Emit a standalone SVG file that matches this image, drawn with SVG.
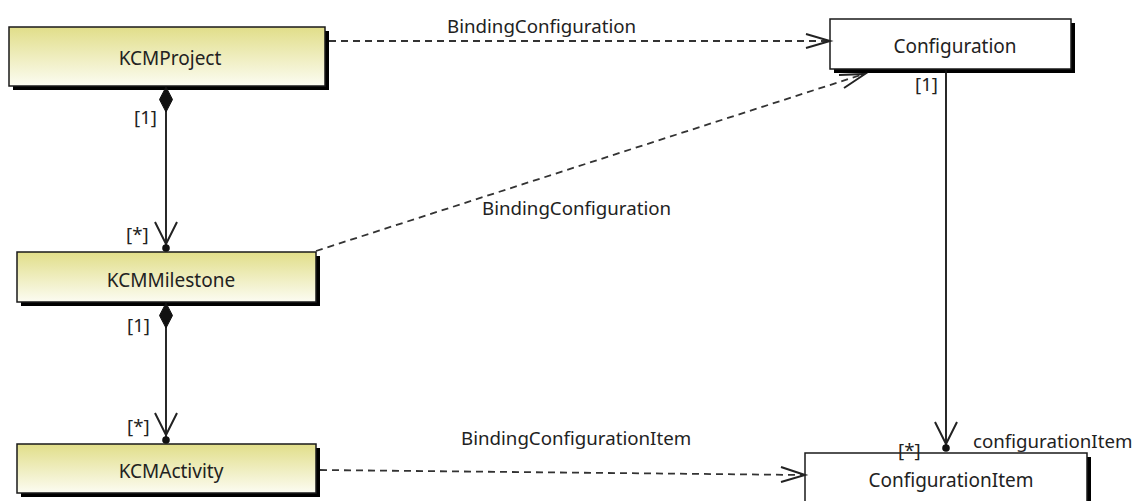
<svg xmlns="http://www.w3.org/2000/svg" width="1136" height="501" viewBox="0 0 1136 501">
<style>
.shadow{fill:#000}
.cls{stroke:#1a1a1a;stroke-width:1.5}
.yel{fill:url(#yg)}
.wht{fill:#fff}
.name{font-family:"Noto Sans","Open Sans",sans-serif;font-size:19px;fill:#222;text-anchor:middle}
.lbl{font-family:"Noto Sans","Open Sans",sans-serif;font-size:18.7px;fill:#222}
.solid{stroke:#111;stroke-width:1.8;fill:none}
.dash{stroke:#333;stroke-width:1.8;fill:none;stroke-dasharray:7 5}
.arm{stroke:#222;stroke-width:2;fill:none}
.dia{fill:#111;stroke:#111;stroke-width:1}
.dot{fill:#111}
</style>
<defs>
<linearGradient id="yg" x1="0" y1="0" x2="0" y2="1">
<stop offset="0" stop-color="#e1de89"/>
<stop offset="1" stop-color="#fcfcf2"/>
</linearGradient>
</defs>
<rect width="1136" height="501" fill="#fff"/>
<g id="KCMProject">
<rect class="shadow" x="13" y="31" width="316" height="59"/>
<rect class="cls yel" x="9" y="27" width="316" height="59"/>
<text class="name" x="170" y="65">KCMProject</text>
</g>
<g id="KCMMilestone">
<rect class="shadow" x="21" y="256" width="299" height="50"/>
<rect class="cls yel" x="17" y="252" width="299" height="50"/>
<text class="name" x="171" y="287">KCMMilestone</text>
</g>
<g id="KCMActivity">
<rect class="shadow" x="21" y="448" width="299" height="49"/>
<rect class="cls yel" x="17" y="444" width="299" height="49"/>
<text class="name" x="171" y="478">KCMActivity</text>
</g>
<g id="Configuration">
<rect class="shadow" x="834" y="23" width="241" height="50"/>
<rect class="cls wht" x="830" y="19" width="241" height="50"/>
<text class="name" x="955" y="53">Configuration</text>
</g>
<g id="ConfigurationItem">
<rect class="shadow" x="809" y="457" width="282" height="60"/>
<rect class="cls wht" x="805" y="453" width="282" height="60"/>
<text class="name" x="951" y="487">ConfigurationItem</text>
</g>
<g id="connectors">
<line class="solid" x1="166" y1="110" x2="166" y2="247"/>
<polygon class="dia" points="166,87 172.5,99.5 166,112 159.5,99.5"/>
<polyline class="arm" points="155,222 166,244 177,222"/>
<circle class="dot" cx="166" cy="248" r="3.8"/>
<line class="solid" x1="166" y1="326" x2="166" y2="439"/>
<polygon class="dia" points="166,303 172.5,315.5 166,328 159.5,315.5"/>
<polyline class="arm" points="155,413 166,435 177,413"/>
<circle class="dot" cx="166" cy="440" r="3.8"/>
<line class="solid" x1="946" y1="70" x2="946" y2="448"/>
<polyline class="arm" points="935,422 946,444 957,422"/>
<circle class="dot" cx="946" cy="448" r="3.8"/>
<line class="dash" x1="329" y1="41" x2="829" y2="41"/>
<polyline class="arm" points="806,34 830,41 806,48"/>
<line class="dash" x1="316" y1="251" x2="864" y2="74"/>
<polyline class="arm" points="839,75 865,74 844,88"/>
<line class="dash" x1="320" y1="470" x2="804" y2="475"/>
<polyline class="arm" points="781,467 805,475 781,482"/>
<text class="lbl" x="447" y="33">BindingConfiguration</text>
<text class="lbl" x="482" y="215">BindingConfiguration</text>
<text class="lbl" x="461" y="445">BindingConfigurationItem</text>
<text class="lbl" x="134" y="124">[1]</text>
<text class="lbl" x="126" y="241">[*]</text>
<text class="lbl" x="127" y="332">[1]</text>
<text class="lbl" x="127" y="433">[*]</text>
<text class="lbl" x="915" y="91">[1]</text>
<text class="lbl" x="898" y="457">[*]</text>
<text class="lbl" x="973" y="448">configurationItem</text>
</g>
</svg>
